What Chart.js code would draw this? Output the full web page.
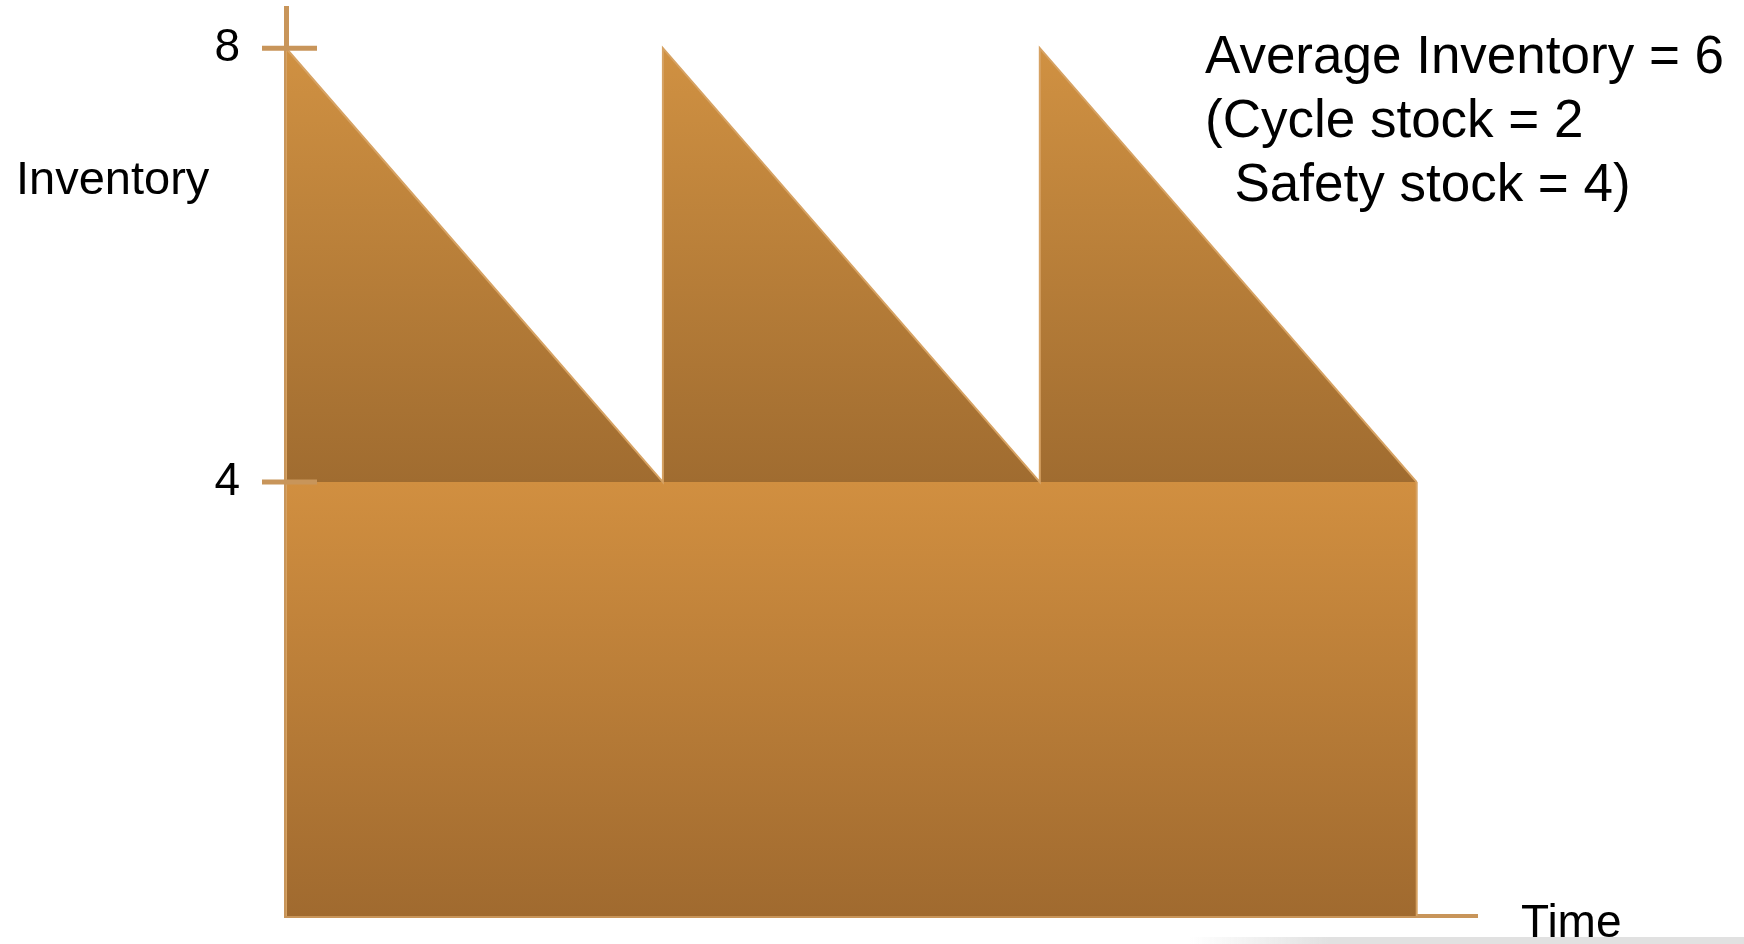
<!DOCTYPE html>
<html>
<head>
<meta charset="utf-8">
<title>Average Inventory</title>
<script src="https://cdn.jsdelivr.net/npm/chart.js@4/dist/chart.umd.min.js"></script>
<style>
    html, body { margin: 0; padding: 0; background: #fff; }
    #wrap { position: relative; width: 1744px; height: 944px; overflow: hidden; }
    #shade {
        position: absolute; left: 1190px; top: 937px; width: 554px; height: 7px;
        background: linear-gradient(to right, rgba(225,225,225,0), rgba(225,225,225,1) 25%);
    }
</style>
</head>
<body>
<div id="wrap">
    <canvas id="inventoryChart" width="1744" height="944"></canvas>
    <div id="shade"></div>
</div>
<script>
// Sawtooth of cycle stock on top of a constant safety stock
const cycleTimes = [0, 0, 1, 1, 2, 2, 3];
const cycleLevels = [4, 8, 4, 8, 4, 8, 4];
const safetyTimes = [0, 0, 3, 3];
const safetyLevels = [0, 4, 4, 0];
const yTickValues = [4, 8];
const yAxisTitle = 'Inventory';
const xAxisTitle = 'Time';
const noteLines = ['Average Inventory = 6', '(Cycle stock = 2', '  Safety stock = 4)'];

const AXIS_COLOR = '#C8955A';
const EDGE_COLOR = '#D6A263';
const FONT = '"Liberation Sans", Arial, sans-serif';

const toPoints = (xs, ys) => xs.map((x, i) => ({ x, y: ys[i] }));

// vertical gradient between two values of the y scale
function bandGradient(context, fromValue, toValue, topColor, bottomColor) {
    const { chart } = context;
    const { ctx, chartArea, scales } = chart;
    if (!chartArea) return topColor;
    const y0 = scales.y.getPixelForValue(fromValue);
    const y1 = scales.y.getPixelForValue(toValue);
    const g = ctx.createLinearGradient(0, y0, 0, y1);
    g.addColorStop(0, topColor);
    g.addColorStop(1, bottomColor);
    return g;
}

// tick crosses on the y axis plus the loose text
const decorations = {
    id: 'decorations',
    afterDraw(chart) {
        const { ctx, scales } = chart;
        const yScale = scales.y;
        const axisX = yScale.right;
        ctx.save();
        ctx.strokeStyle = AXIS_COLOR;
        ctx.lineWidth = 5;
        yScale.ticks.forEach(t => {
            const py = yScale.getPixelForValue(t.value);
            ctx.beginPath();
            ctx.moveTo(axisX - 24, py);
            ctx.lineTo(axisX + 31, py);
            ctx.stroke();
        });

        ctx.fillStyle = '#000';
        ctx.textBaseline = 'alphabetic';
        ctx.textAlign = 'left';
        ctx.font = '47px ' + FONT;
        ctx.fillText(yAxisTitle, 16, 194);
        ctx.font = '46px ' + FONT;
        ctx.fillText(xAxisTitle, 1521, 937);

        ctx.font = '53px ' + FONT;
        noteLines.forEach((line, i) => {
            ctx.fillText(line, 1205, 73 + i * 64);
        });
        ctx.restore();
    }
};

const ctx = document.getElementById('inventoryChart').getContext('2d');
new Chart(ctx, {
    type: 'scatter',
    data: {
        datasets: [
            {
                label: 'Safety stock',
                data: toPoints(safetyTimes, safetyLevels),
                showLine: true,
                fill: 'origin',
                borderColor: EDGE_COLOR,
                borderWidth: 2,
                pointRadius: 0,
                segment: {
                    borderColor: c => (c.p0.parsed.y === 4 && c.p1.parsed.y === 4) ? 'rgba(0,0,0,0)' : undefined
                },
                backgroundColor: c => bandGradient(c, 4, 0, '#D18F40', '#A06A2F'),
                order: 2
            },
            {
                label: 'Cycle stock',
                data: toPoints(cycleTimes, cycleLevels),
                showLine: true,
                fill: { value: 4 },
                borderColor: EDGE_COLOR,
                borderWidth: 2,
                pointRadius: 0,
                backgroundColor: c => bandGradient(c, 8, 4, '#D09142', '#A06C30'),
                order: 1
            }
        ]
    },
    options: {
        responsive: false,
        devicePixelRatio: 1,
        animation: false,
        layout: { padding: { left: 0, top: 8, right: 267, bottom: 0 } },
        plugins: {
            legend: { display: false },
            tooltip: { enabled: false }
        },
        scales: {
            x: {
                type: 'linear',
                min: 0,
                max: 3.16,
                z: 1,
                grid: { display: false, drawTicks: false },
                ticks: { display: false },
                border: { display: true, color: AXIS_COLOR, width: 4 },
                afterFit(scale) {
                    scale.height = 28;
                    scale.paddingLeft = 0;
                    scale.paddingRight = 0;
                }
            },
            y: {
                type: 'linear',
                min: 0,
                max: 8.37,
                z: 1,
                grid: { display: false, drawTicks: false },
                border: { display: true, color: AXIS_COLOR, width: 5 },
                ticks: {
                    color: '#000',
                    padding: 46,
                    font: { family: FONT, size: 46 }
                },
                afterBuildTicks(scale) {
                    scale.ticks = yTickValues.map(v => ({ value: v }));
                },
                afterFit(scale) {
                    scale.width = 286;
                    scale.paddingTop = 0;
                    scale.paddingBottom = 0;
                }
            }
        }
    },
    plugins: [decorations]
});
</script>
</body>
</html>
